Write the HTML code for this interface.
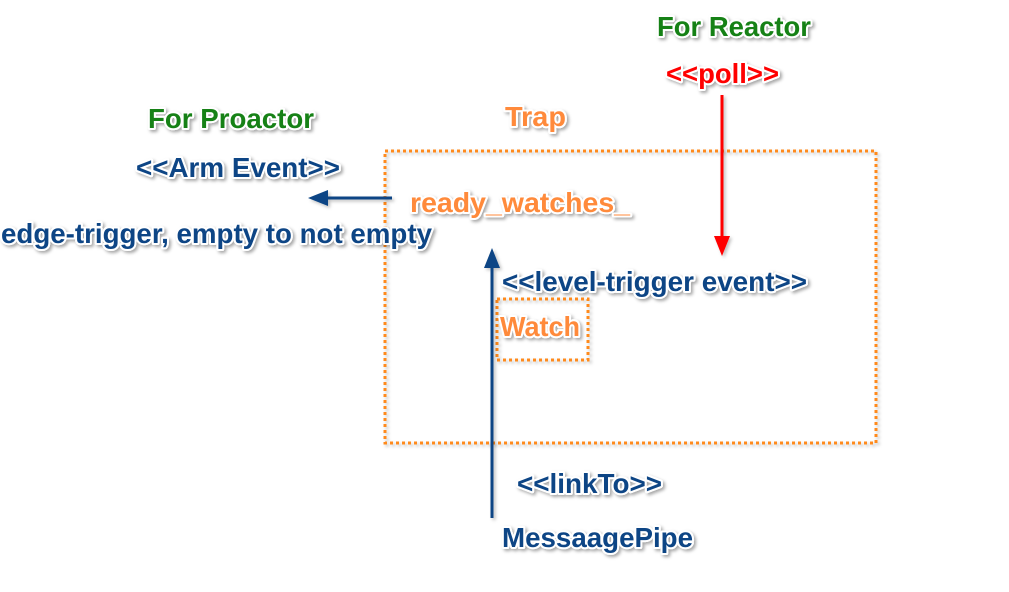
<!DOCTYPE html>
<html><head><meta charset="utf-8"><style>
html,body{margin:0;padding:0;background:#fff;}
svg{display:block;}
text{font-family:"Liberation Sans",sans-serif;font-weight:bold;font-size:28px;paint-order:stroke;stroke:#fff;stroke-width:4px;stroke-linejoin:round;filter:url(#sh);}
</style></head><body>
<svg width="1009" height="592" viewBox="0 0 1009 592" xmlns="http://www.w3.org/2000/svg">
<defs>
<filter id="sh" x="-10%" y="-30%" width="120%" height="160%"><feDropShadow dx="2" dy="2" stdDeviation="1.5" flood-color="#000" flood-opacity="0.35"/></filter>
<filter id="ls" x="-10%" y="-10%" width="120%" height="120%"><feDropShadow dx="2" dy="2" stdDeviation="1.5" flood-color="#000" flood-opacity="0.25"/></filter>
</defs>
<rect x="385" y="151" width="491" height="292" fill="none" stroke="#ff8a1a" stroke-width="3" stroke-dasharray="3 3" filter="url(#ls)"/>
<rect x="497" y="299" width="91" height="61" fill="none" stroke="#ff8a1a" stroke-width="3" stroke-dasharray="3 3" filter="url(#ls)"/>
<g filter="url(#ls)">
<line x1="492" y1="518" x2="492" y2="262" stroke="#0d4585" stroke-width="3"/>
<polygon points="492,248 484,268 500,268" fill="#0d4585"/>
<line x1="392" y1="198" x2="320" y2="198" stroke="#0d4585" stroke-width="3"/>
<polygon points="308,198 328,190 328,206" fill="#0d4585"/>
<line x1="722" y1="95" x2="722" y2="242" stroke="#f00" stroke-width="3"/>
<polygon points="722,256 714,236 730,236" fill="#f00"/>
</g>
<g>
<text x="657" y="36" fill="#138113" textLength="154" lengthAdjust="spacingAndGlyphs">For Reactor</text>
<text x="666" y="83" fill="#f00" textLength="113" lengthAdjust="spacingAndGlyphs">&lt;&lt;poll&gt;&gt;</text>
<text x="148" y="128" fill="#138113" textLength="166" lengthAdjust="spacingAndGlyphs">For Proactor</text>
<text x="505" y="126" fill="#ff8a3a" textLength="61" lengthAdjust="spacingAndGlyphs">Trap</text>
<text x="136" y="177" fill="#0d4585" textLength="204" lengthAdjust="spacingAndGlyphs">&lt;&lt;Arm Event&gt;&gt;</text>
<text x="410" y="212" fill="#ff8a3a" textLength="220" lengthAdjust="spacingAndGlyphs">ready_watches_</text>
<text x="1" y="243" fill="#0d4585" textLength="431" lengthAdjust="spacingAndGlyphs">edge-trigger, empty to not empty</text>
<text x="502" y="291" fill="#0d4585" textLength="305" lengthAdjust="spacingAndGlyphs">&lt;&lt;level-trigger event&gt;&gt;</text>
<text x="500" y="336" fill="#ff8a3a" textLength="80" lengthAdjust="spacingAndGlyphs">Watch</text>
<text x="517" y="493" fill="#0d4585" textLength="145" lengthAdjust="spacingAndGlyphs">&lt;&lt;linkTo&gt;&gt;</text>
<text x="502" y="547" fill="#0d4585" textLength="191" lengthAdjust="spacingAndGlyphs">MessaagePipe</text>
</g>
</svg>
</body></html>
